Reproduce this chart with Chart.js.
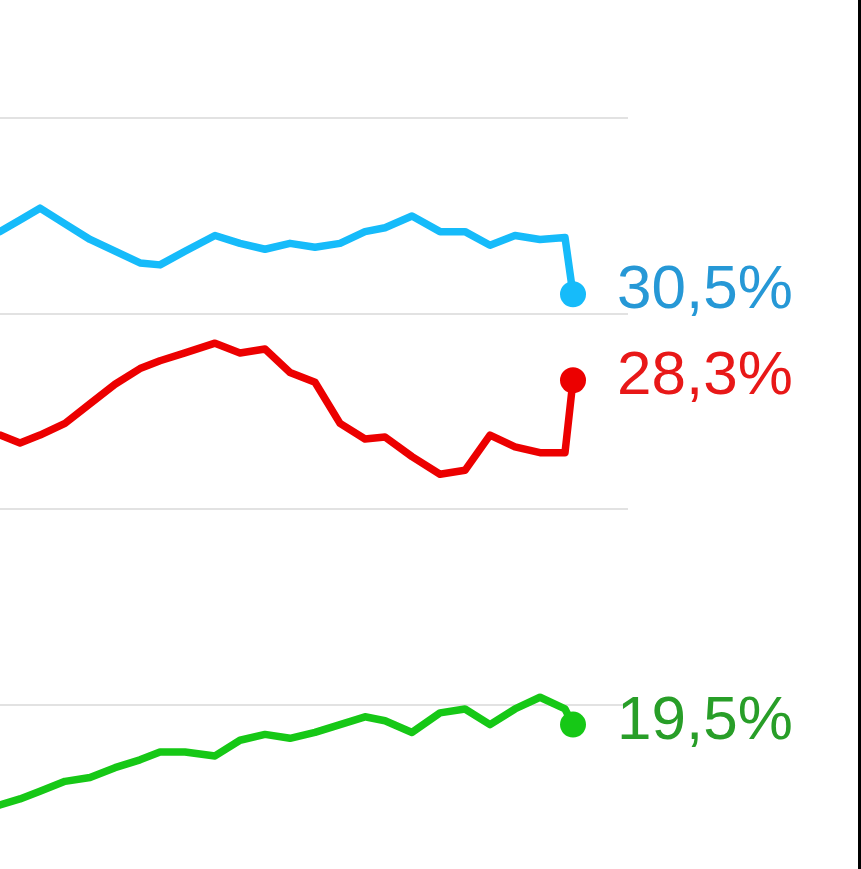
<!DOCTYPE html>
<html>
<head>
<meta charset="utf-8">
<script src="https://cdn.jsdelivr.net/npm/chart.js@4.4.1/dist/chart.umd.min.js"></script>
<style>
  html, body { margin: 0; padding: 0; background: #fff; }
  #wrap { width: 858px; height: 869px; border-right: 3px solid #000; position: relative; }
</style>
</head>
<body>
<div id="wrap"><canvas id="myChart" width="858" height="869"></canvas></div>
<script>
// poll dates (days, left edge of the crop = 0)
const days = [0, 20, 40, 65, 90, 115, 140, 160, 185, 215, 240, 265, 290, 315, 340, 365, 385, 412, 440, 465, 490, 515, 540, 565, 573];

const blue = [32.1, 32.4, 32.7, 32.3, 31.9, 31.6, 31.3, 31.25, 31.6, 32.0, 31.8, 31.65, 31.8, 31.7, 31.8, 32.1, 32.2, 32.5, 32.1, 32.1, 31.75, 32.0, 31.9, 31.95, 30.5];
const red = [26.9, 26.7, 26.9, 27.2, 27.7, 28.2, 28.6, 28.8, 29.0, 29.25, 29.0, 29.1, 28.5, 28.25, 27.2, 26.8, 26.85, 26.35, 25.9, 26.0, 26.9, 26.6, 26.45, 26.45, 28.3];
const green = [17.45, 17.6, 17.8, 18.05, 18.15, 18.4, 18.6, 18.8, 18.8, 18.7, 19.1, 19.25, 19.15, 19.3, 19.5, 19.7, 19.6, 19.3, 19.8, 19.9, 19.5, 19.9, 20.2, 19.9, 19.5];

const gridValues = [20, 25, 30, 35];

function pts(arr) {
    return arr.map((v, i) => ({ x: days[i], y: v }));
}
function lastDot(arr) {
    return arr.map((v, i) => i === arr.length - 1 ? 13 : 0);
}

const endLabels = {
    id: 'endLabels',
    afterDatasetsDraw(chart) {
        const ctx = chart.ctx;
        ctx.save();
        ctx.font = '62px "Liberation Sans", Arial, sans-serif';
        ctx.textAlign = 'left';
        ctx.textBaseline = 'middle';
        chart.data.datasets.forEach((ds, i) => {
            const meta = chart.getDatasetMeta(i);
            const p = meta.data[meta.data.length - 1];
            const v = ds.data[ds.data.length - 1].y;
            ctx.fillStyle = ds.labelColor;
            ctx.fillText(v.toFixed(1).replace('.', ',') + '%', p.x + 44, p.y - 3);
        });
        ctx.restore();
    }
};

new Chart(document.getElementById('myChart'), {
    type: 'line',
    data: {
        datasets: [
            {
                data: pts(blue),
                borderColor: 'rgb(22, 187, 250)',
                backgroundColor: 'rgb(22, 187, 250)',
                labelColor: 'rgb(38, 152, 214)',
                borderWidth: 7.5,
                pointRadius: lastDot(blue),
                pointBorderWidth: 0,
                tension: 0
            },
            {
                data: pts(red),
                borderColor: 'rgb(236, 0, 0)',
                backgroundColor: 'rgb(236, 0, 0)',
                labelColor: 'rgb(232, 24, 24)',
                borderWidth: 7.5,
                pointRadius: lastDot(red),
                pointBorderWidth: 0,
                tension: 0
            },
            {
                data: pts(green),
                borderColor: 'rgb(22, 200, 22)',
                backgroundColor: 'rgb(22, 200, 22)',
                labelColor: 'rgb(40, 158, 40)',
                borderWidth: 7.5,
                pointRadius: lastDot(green),
                pointBorderWidth: 0,
                tension: 0
            }
        ]
    },
    options: {
        responsive: false,
        animation: false,
        layout: { autoPadding: false, padding: { left: 0, right: 230, top: 0, bottom: 0 } },
        elements: { line: { borderJoinStyle: 'round', borderCapStyle: 'round' } },
        plugins: { legend: { display: false }, tooltip: { enabled: false } },
        scales: {
            x: {
                type: 'linear',
                display: false,
                min: 0,
                max: 628
            },
            y: {
                min: 15.81,
                max: 38.02,
                afterBuildTicks: (scale) => { scale.ticks = gridValues.map(v => ({ value: v })); },
                afterFit: (scale) => { scale.width = 0; },
                ticks: { display: false, padding: 0 },
                border: { display: false },
                grid: { color: '#e2e2e2', lineWidth: 2, drawTicks: false, tickLength: 0 }
            }
        }
    },
    plugins: [endLabels]
});
</script>
</body>
</html>
